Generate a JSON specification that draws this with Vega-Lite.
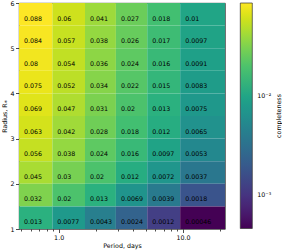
{
  "$schema": "https://vega.github.io/schema/vega-lite/v6.json",
  "width": 206,
  "height": 226,
  "autosize": "none",
  "padding": {"left": 19, "top": 3, "right": 57, "bottom": 22},
  "config": {
    "font": "DejaVu Sans",
    "view": {"stroke": "#222", "strokeWidth": 0.8},
    "axis": {"domain": false, "grid": false, "tickColor": "#000", "tickWidth": 0.7, "labelColor": "#000", "titleColor": "#000", "labelFontSize": 6.3, "titleFontSize": 6.3, "titleFontWeight": "normal"},
    "legend": {"labelColor": "#000", "labelFontSize": 6.3}
  },
  "title": {"text": "completeness", "orient": "right", "angle": -90, "baseline": "middle", "fontSize": 6.3, "fontWeight": "normal", "color": "#000", "offset": 1.5, "anchor": "middle"},
  "data": {"values": [
    {"p0":0.48,"p1":0.89,"r0":5.5,"r1":6,"c":0.088},{"p0":0.89,"p1":1.63,"r0":5.5,"r1":6,"c":0.06},{"p0":1.63,"p1":2.89,"r0":5.5,"r1":6,"c":0.041},{"p0":2.89,"p1":5.16,"r0":5.5,"r1":6,"c":0.027},{"p0":5.16,"p1":9.5,"r0":5.5,"r1":6,"c":0.018},{"p0":9.5,"p1":21.8,"r0":5.5,"r1":6,"c":0.01},
    {"p0":0.48,"p1":0.89,"r0":5,"r1":5.5,"c":0.084},{"p0":0.89,"p1":1.63,"r0":5,"r1":5.5,"c":0.057},{"p0":1.63,"p1":2.89,"r0":5,"r1":5.5,"c":0.038},{"p0":2.89,"p1":5.16,"r0":5,"r1":5.5,"c":0.026},{"p0":5.16,"p1":9.5,"r0":5,"r1":5.5,"c":0.017},{"p0":9.5,"p1":21.8,"r0":5,"r1":5.5,"c":0.0097},
    {"p0":0.48,"p1":0.89,"r0":4.5,"r1":5,"c":0.08},{"p0":0.89,"p1":1.63,"r0":4.5,"r1":5,"c":0.054},{"p0":1.63,"p1":2.89,"r0":4.5,"r1":5,"c":0.036},{"p0":2.89,"p1":5.16,"r0":4.5,"r1":5,"c":0.024},{"p0":5.16,"p1":9.5,"r0":4.5,"r1":5,"c":0.016},{"p0":9.5,"p1":21.8,"r0":4.5,"r1":5,"c":0.0091},
    {"p0":0.48,"p1":0.89,"r0":4,"r1":4.5,"c":0.075},{"p0":0.89,"p1":1.63,"r0":4,"r1":4.5,"c":0.052},{"p0":1.63,"p1":2.89,"r0":4,"r1":4.5,"c":0.034},{"p0":2.89,"p1":5.16,"r0":4,"r1":4.5,"c":0.022},{"p0":5.16,"p1":9.5,"r0":4,"r1":4.5,"c":0.015},{"p0":9.5,"p1":21.8,"r0":4,"r1":4.5,"c":0.0083},
    {"p0":0.48,"p1":0.89,"r0":3.5,"r1":4,"c":0.069},{"p0":0.89,"p1":1.63,"r0":3.5,"r1":4,"c":0.047},{"p0":1.63,"p1":2.89,"r0":3.5,"r1":4,"c":0.031},{"p0":2.89,"p1":5.16,"r0":3.5,"r1":4,"c":0.02},{"p0":5.16,"p1":9.5,"r0":3.5,"r1":4,"c":0.013},{"p0":9.5,"p1":21.8,"r0":3.5,"r1":4,"c":0.0075},
    {"p0":0.48,"p1":0.89,"r0":3,"r1":3.5,"c":0.063},{"p0":0.89,"p1":1.63,"r0":3,"r1":3.5,"c":0.042},{"p0":1.63,"p1":2.89,"r0":3,"r1":3.5,"c":0.028},{"p0":2.89,"p1":5.16,"r0":3,"r1":3.5,"c":0.018},{"p0":5.16,"p1":9.5,"r0":3,"r1":3.5,"c":0.012},{"p0":9.5,"p1":21.8,"r0":3,"r1":3.5,"c":0.0065},
    {"p0":0.48,"p1":0.89,"r0":2.5,"r1":3,"c":0.056},{"p0":0.89,"p1":1.63,"r0":2.5,"r1":3,"c":0.038},{"p0":1.63,"p1":2.89,"r0":2.5,"r1":3,"c":0.024},{"p0":2.89,"p1":5.16,"r0":2.5,"r1":3,"c":0.016},{"p0":5.16,"p1":9.5,"r0":2.5,"r1":3,"c":0.0097},{"p0":9.5,"p1":21.8,"r0":2.5,"r1":3,"c":0.0053},
    {"p0":0.48,"p1":0.89,"r0":2,"r1":2.5,"c":0.045},{"p0":0.89,"p1":1.63,"r0":2,"r1":2.5,"c":0.03},{"p0":1.63,"p1":2.89,"r0":2,"r1":2.5,"c":0.02},{"p0":2.89,"p1":5.16,"r0":2,"r1":2.5,"c":0.012},{"p0":5.16,"p1":9.5,"r0":2,"r1":2.5,"c":0.0072},{"p0":9.5,"p1":21.8,"r0":2,"r1":2.5,"c":0.0037},
    {"p0":0.48,"p1":0.89,"r0":1.5,"r1":2,"c":0.032},{"p0":0.89,"p1":1.63,"r0":1.5,"r1":2,"c":0.02},{"p0":1.63,"p1":2.89,"r0":1.5,"r1":2,"c":0.013},{"p0":2.89,"p1":5.16,"r0":1.5,"r1":2,"c":0.0069},{"p0":5.16,"p1":9.5,"r0":1.5,"r1":2,"c":0.0039},{"p0":9.5,"p1":21.8,"r0":1.5,"r1":2,"c":0.0018},
    {"p0":0.48,"p1":0.89,"r0":1,"r1":1.5,"c":0.013},{"p0":0.89,"p1":1.63,"r0":1,"r1":1.5,"c":0.0077},{"p0":1.63,"p1":2.89,"r0":1,"r1":1.5,"c":0.0043},{"p0":2.89,"p1":5.16,"r0":1,"r1":1.5,"c":0.0024},{"p0":5.16,"p1":9.5,"r0":1,"r1":1.5,"c":0.0012},{"p0":9.5,"p1":21.8,"r0":1,"r1":1.5,"c":0.00046}
  ]},
  "layer": [
    {
      "mark": {"type": "rect"},
      "encoding": {
        "x": {"field": "p0", "type": "quantitative",
          "scale": {"type": "log", "domain": [0.48, 21.8], "nice": false},
          "axis": {"title": "Period, days", "values": [0.5,0.6,0.7,0.8,0.9,1,2,3,4,5,6,7,8,9,10,20],
            "labelExpr": "datum.value == 1 ? '1.0' : (datum.value == 10 ? '10.0' : '')",
            "tickSize": {"condition": {"test": "datum.value == 1 || datum.value == 10", "value": 3.5}, "value": 2},
            "labelPadding": 2, "titlePadding": 2, "labelFlush": false, "labelOverlap": false}},
        "x2": {"field": "p1"},
        "y": {"field": "r0", "type": "quantitative",
          "scale": {"domain": [1, 6], "nice": false, "zero": false},
          "axis": {"title": "Radius, R⁎", "values": [1,2,3,4,5,6], "format": "d", "tickSize": 3.5, "labelPadding": 1.5, "titlePadding": 2}},
        "y2": {"field": "r1"},
        "color": {"field": "c", "type": "quantitative",
          "scale": {"type": "log", "scheme": "viridis", "domain": [0.00046, 0.088]},
          "legend": {"orient": "none", "legendX": 221.3, "legendY": 0, "direction": "vertical", "title": null,
            "gradientLength": 225.5, "gradientThickness": 12, "gradientStrokeColor": "#333", "gradientStrokeWidth": 0.7,
            "values": [0.001, 0.01], "labelExpr": "datum.value < 0.005 ? '10⁻³' : '10⁻²'", "labelOffset": 5, "labelOverlap": false}}
      }
    },
    {
      "mark": {"type": "text", "align": "left", "baseline": "alphabetic", "dx": 5, "dy": -5, "fontSize": 6.3, "color": "#000"},
      "encoding": {
        "x": {"field": "p0", "type": "quantitative"},
        "y": {"field": "r0", "type": "quantitative"},
        "text": {"field": "c", "type": "nominal"}
      }
    }
  ]
}
